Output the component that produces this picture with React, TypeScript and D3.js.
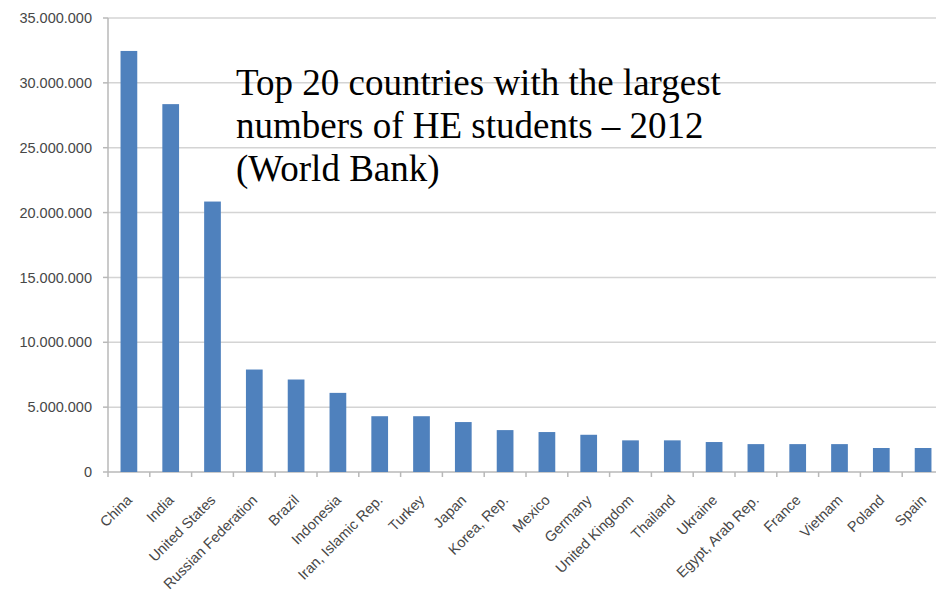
import React from "react";
import * as d3 from "d3";

const countries = [
  "China", "India", "United States", "Russian Federation", "Brazil", "Indonesia",
  "Iran, Islamic Rep.", "Turkey", "Japan", "Korea, Rep.", "Mexico", "Germany",
  "United Kingdom", "Thailand", "Ukraine", "Egypt, Arab Rep.", "France", "Vietnam",
  "Poland", "Spain",
];
const students = [
  32460000, 28360000, 20850000, 7900000, 7130000, 6100000,
  4300000, 4300000, 3850000, 3230000, 3080000, 2870000,
  2440000, 2440000, 2310000, 2150000, 2150000, 2150000,
  1850000, 1850000,
];
const yTicks = [0, 5000000, 10000000, 15000000, 20000000, 25000000, 30000000, 35000000];
const titleLines = [
  "Top 20 countries with the largest",
  "numbers of HE students \u2013 2012",
  "(World Bank)",
];

const W = 936;
const H = 592;
const left = 108;
const right = 944;
const top = 18;
const bottom = 472;

const fmt = (v: number) =>
  v === 0 ? "0" : d3.format(",")(v).replace(/,/g, ".");

export default function App() {
  const x = d3.scaleBand<string>().domain(countries).range([left, right]).paddingInner(0.6).paddingOuter(0.3);
  const xb = d3.scaleBand<string>().domain(countries).range([left, right]);
  const y = d3.scaleLinear().domain([0, 35000000]).range([bottom, top]);
  const labelFont = "'Liberation Sans', Arial, sans-serif";
  const txt = "#474747";
  return (
    <svg width={W} height={H} style={{ position: "absolute", left: 0, top: 0, background: "#fff" }}>
      {yTicks.map((t) => (
        <g key={t}>
          {t > 0 && (
            <line x1={left} x2={W} y1={y(t)} y2={y(t)} stroke="#d4d4d4" strokeWidth={1.5} />
          )}
          <line x1={left - 5} x2={left} y1={y(t)} y2={y(t)} stroke="#b8b8b8" strokeWidth={1.5} />
          <text x={92} y={y(t)} dy="0.35em" textAnchor="end" fontFamily={labelFont} fontSize={14.5} fill={txt}>
            {fmt(t)}
          </text>
        </g>
      ))}
      <line x1={left} x2={left} y1={top} y2={bottom} stroke="#b8b8b8" strokeWidth={1.5} />
      <line x1={left} x2={W} y1={bottom} y2={bottom} stroke="#b8b8b8" strokeWidth={1.5} />
      {countries.map((c) => (
        <line key={"t" + c} x1={xb(c)!} x2={xb(c)!} y1={bottom} y2={bottom + 5} stroke="#b8b8b8" strokeWidth={1.5} />
      ))}
      {countries.map((c, i) => (
        <rect key={c} x={x(c)!} y={y(students[i])} width={x.bandwidth()} height={bottom - y(students[i])} fill="#4f81bd" />
      ))}
      {countries.map((c) => {
        const cx = (xb(c)! + xb.bandwidth() / 2) + 4;
        const cy = bottom + 29;
        return (
          <text key={"l" + c} x={cx} y={cy} transform={`rotate(-45 ${cx} ${cy})`} textAnchor="end"
            fontFamily={labelFont} fontSize={14.5} fill={txt}>
            {c}
          </text>
        );
      })}
      {titleLines.map((l, i) => (
        <text key={l} x={236} y={95 + i * 43} fontFamily="'Liberation Serif', 'Times New Roman', serif" fontSize={37} fill="#000">
          {l}
        </text>
      ))}
    </svg>
  );
}
